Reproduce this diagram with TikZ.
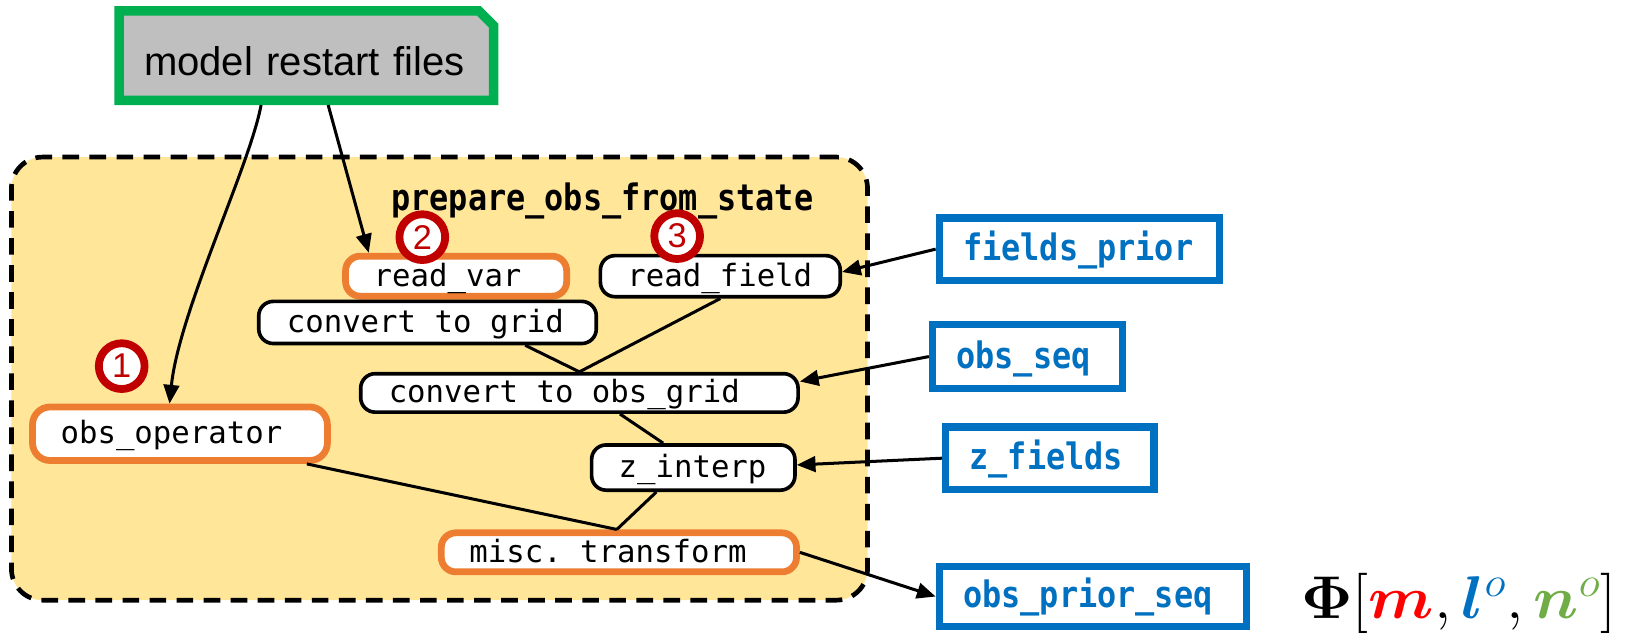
\RequirePackage{fix-cm}
\documentclass[tikz,border=0pt]{standalone}
\usepackage{fontspec}
\usepackage{graphicx}
\usepackage{bm}
\usetikzlibrary{arrows.meta,backgrounds}

\newfontfamily\labelsans{Liberation Sans}
\newfontfamily\codefont[WordSpace={1,0,0},PunctuationSpace=WordSpace]{DejaVu Sans Mono}
\newfontfamily\codebold[FakeStretch=0.875,WordSpace={1,0,0}]{DejaVu Sans Mono Bold}
% one monospace cell, used for the gaps between words in the step labels
\newcommand\gap{\hspace*{0.6021em}}

\definecolor{panelY}{HTML}{FFE699}
\definecolor{srcGray}{HTML}{BFBFBF}
\definecolor{srcGreen}{HTML}{00B050}
\definecolor{keyOrange}{HTML}{ED7D31}
\definecolor{ioBlue}{HTML}{0070C0}
\definecolor{badgeRed}{HTML}{C00000}
\definecolor{mathRed}{HTML}{FF0000}
\definecolor{mathGreen}{HTML}{70AD47}

\tikzset{
  conn/.style={draw=black, line width=2.9pt},
  arr/.style={conn, -{Triangle[length=18pt,width=15pt]}},
  frame/.style={draw=black, line width=4.5pt, dash pattern=on 16pt off 10pt,
    fill=panelY, rounded corners=30pt, inner sep=0pt},
  srcbox/.style={inner sep=0pt, outer sep=0pt, inner xsep=24pt, text width=312pt,
    align=left, minimum height=86pt, text height=38pt, text depth=0pt,
    font=\labelsans\fontsize{38.5}{46}\selectfont},
  stage/.style={draw=black, line width=3.5pt, fill=white, rounded corners=14pt,
    font=\codefont\fontsize{29.5}{35}\selectfont, align=left,
    inner ysep=0pt, inner xsep=27pt, text height=25pt, text depth=6pt},
  keystage/.style={stage, draw=keyOrange, line width=6.5pt},
  inbox/.style={draw=ioBlue, line width=7pt, fill=white, text=ioBlue,
    font=\codebold\fontsize{35}{42}\selectfont, align=left,
    inner ysep=0pt, inner xsep=23pt, text height=27pt, text depth=5pt},
  badge/.style={circle, draw=badgeRed, line width=7.5pt, fill=white, text=badgeRed,
    minimum size=44pt, inner sep=0pt, font=\labelsans\fontsize{33}{38}\selectfont},
  paneltitle/.style={font=\codebold\fontsize{35}{42}\selectfont, inner sep=0pt},
}

\begin{document}
\begin{tikzpicture}[x=1pt,y=-1pt]
\useasboundingbox (0,0) rectangle (1568,609);

% dashed routine panel and its title
\node[frame, minimum width=823pt, minimum height=426pt] (panel) at (422.5,364) {};
\node[paneltitle, anchor=base west] (title) at (376,202) {prepare\_obs\_from\_state};

% model restart files (chamfered source box)
\node[srcbox] (mrf) at (294.5,53.5) {model restart files};
\begin{scope}[on background layer]
  \draw[line width=9pt, draw=srcGreen, fill=srcGray, line join=miter]
    (mrf.south west) -- (mrf.north west) -- ([xshift=-14pt]mrf.north east)
    -- ([yshift=-14pt]mrf.north east) -- (mrf.south east) -- cycle;
\end{scope}

% processing steps
\node[keystage, text width=158.5pt, minimum height=38.5pt] (rv) at (438.5,265.5) {read\_var};
\node[stage, inner xsep=26pt, text width=178.6pt, minimum height=39.5pt] (rf) at (692.5,265.5) {read\_field};
\node[stage, text width=270.5pt, minimum height=40.5pt] (cg) at (411,310) {convert\gap to\gap grid};
\node[stage, text width=366.5pt, minimum height=37pt] (co) at (557,377.75) {convert\gap to\gap obs\_grid};
\node[keystage, rounded corners=17pt, text width=229.5pt, minimum height=51.5pt] (oo) at (173,417) {obs\_operator};
\node[stage, inner xsep=26pt, text width=143.5pt, minimum height=43.5pt] (zi) at (666.5,449.5) {z\_interp};
\node[keystage, text width=287.5pt, minimum height=37.5pt] (mt) at (595,531) {misc.\gap transform};

% inputs and output
\node[inbox, text width=223.5pt, minimum height=60pt] (fp) at (1037.75,239.5) {fields\_prior};
\node[inbox, text width=136.5pt, minimum height=61.4pt] (os) at (987.75,342.8) {obs\_seq};
\node[inbox, text width=154.4pt, minimum height=60pt] (zf) at (1009.3,440.5) {z\_fields};
\node[inbox, text width=249.5pt, minimum height=58pt] (ops) at (1050.75,573.5) {obs\_prior\_seq};

% connectors
\draw[arr] ([xshift=-43.5pt,yshift=-4.5pt]mrf.south) .. controls (240,160) and (172,300) .. ([xshift=-10pt]oo.north);
\draw[arr] ([xshift=21pt,yshift=-4.5pt]mrf.south) -- ([xshift=-84pt]rv.north);
\draw[arr] (fp.west) -- ([yshift=4pt]rf.east);
\draw[arr] (os.west) -- ([yshift=11pt]co.east);
\draw[arr] (zf.west) -- ([yshift=2.5pt]zi.east);
\draw[arr] (mt.east) -- (ops.west);

\draw[conn] ([xshift=94pt]cg.south) -- (co.north);
\draw[conn] (rf.south) -- (co.north);
\draw[conn] ([xshift=39pt]co.south) -- ([xshift=-29pt]zi.north);
\draw[conn] ([xshift=-35.5pt]zi.south) -- ([xshift=-2pt]mt.north);
\draw[conn] ([xshift=122pt]oo.south) -- ([xshift=-2pt]mt.north);

% step numbers
\node[badge] (b1) at (117,352) {1};
\node[badge] (b2) at (406,228) {2};
\node[badge] (b3) at (651,227) {3};

% operator expression
\node[anchor=base, inner sep=0pt, font=\fontsize{58}{64}\selectfont] (phi) at (1402.5,594.5)
  {\scalebox{1.05}[1]{$\bm{\Phi}[\textcolor{mathRed}{\bm{m}},\textcolor{ioBlue}{\bm{l}^{o}},\textcolor{mathGreen}{\bm{n}^{o}}]$}};
\end{tikzpicture}
\end{document}
